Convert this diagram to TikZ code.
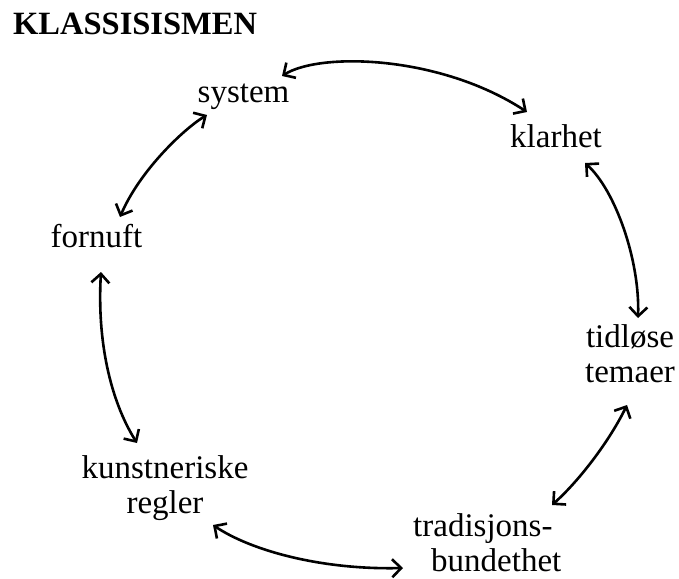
\documentclass[tikz,border=0pt]{standalone}
\usepackage{fontspec}
\setmainfont{Liberation Serif}
\usetikzlibrary{arrows.meta,calc}
\begin{document}
\begin{tikzpicture}[x=1pt,y=-1pt,
  lbl/.style={inner sep=0pt,anchor=base,align=center,font=\fontsize{33}{35}\selectfont},
  barb/.tip={Straight Barb[length=9pt,width=18pt,line width=2.6pt]},
  link/.style={line width=2.6pt,{barb}-{barb}}]
\useasboundingbox (0,0) rectangle (679,578);
\node[inner sep=0pt,anchor=base west,font=\fontsize{32.5}{34}\selectfont\bfseries] (title) at (13,35) {KLASSISISMEN};
\node[lbl] (sys) at (243.5,102) {system};
\node[lbl] (kla) at (556,147) {klarhet};
\node[lbl] (forn) at (96.5,247) {fornuft};
\node[lbl] (tid) at (630,382) {tidløse\\temaer};
\node[lbl] (kun) at (165,513) {kunstneriske\\regler};
\node[lbl,anchor=base west,align=left] (tra) at (413,571) {tradisjons-\\\hspace*{18pt}bundethet};
\draw[link] ($(sys.base)+(38.5,-26)$) .. controls (320,52) and (440,55) .. ($(kla.base)+(-29,-35)$);
\draw[link] ($(sys.base)+(-36.5,13)$) .. controls (185,128) and (140,170) .. ($(forn.base)+(23.5,-30)$);
\draw[link] ($(forn.base)+(4.5,25)$) .. controls (97,340) and (110,400) .. ($(kun.base)+(-28,-70)$);
\draw[link] ($(kun.base)+(48,12)$) .. controls (250,550) and (320,570) .. ($(tra.base west)+(-10,-3)$);
\draw[link] ($(tra.base west)+(139,-66)$) .. controls (580,480) and (610,440) .. ($(tid.base)+(-3,23)$);
\draw[link] ($(kla.base)+(29,16)$) .. controls (615,190) and (640,260) .. ($(tid.base)+(8,-64)$);
\end{tikzpicture}
\end{document}
